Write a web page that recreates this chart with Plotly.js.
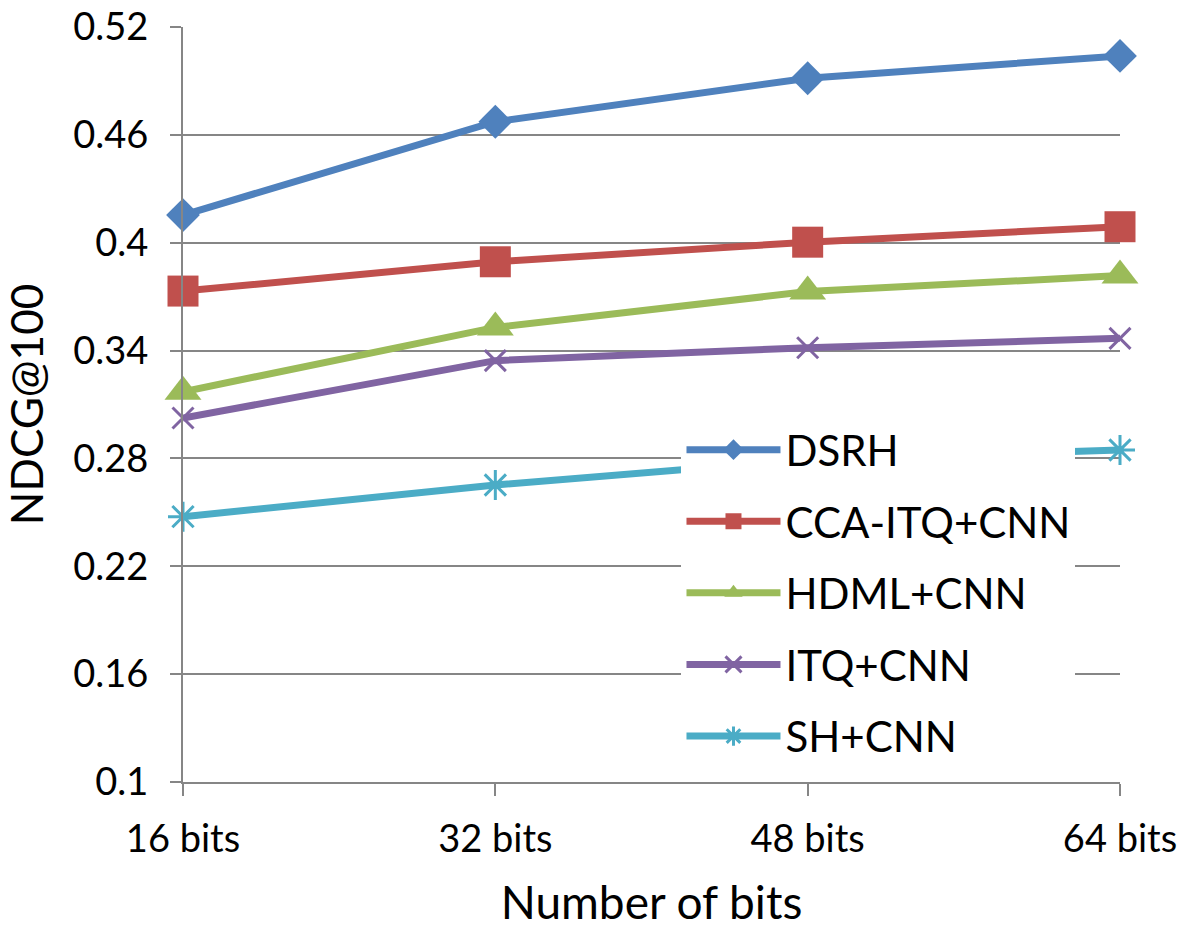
<!DOCTYPE html>
<html>
<head>
<meta charset="utf-8">
<script src="https://cdn.plot.ly/plotly-3.0.1.min.js"></script>
<style>html,body{margin:0;padding:0;background:#fff;}#chart{width:1181px;height:934px;}</style>
</head>
<body>
<div id="chart"></div>
<script>
const categories = ["16 bits", "32 bits", "48 bits", "64 bits"];
const seriesNames = ["DSRH", "CCA-ITQ+CNN", "HDML+CNN", "ITQ+CNN", "SH+CNN"];
const dsrh = [0.4154, 0.4673, 0.4915, 0.5039];
const ccaItq = [0.3731, 0.3894, 0.4003, 0.4089];
const hdml = [0.3171, 0.3529, 0.3728, 0.3817];
const itq = [0.3025, 0.3344, 0.3416, 0.3468];
const sh = [0.2476, 0.2652, 0.2794, 0.2847];
const yTickVals = [0.1, 0.16, 0.22, 0.28, 0.34, 0.4, 0.46, 0.52];
const yTickText = ["0.1", "0.16", "0.22", "0.28", "0.34", "0.4", "0.46", "0.52"];

const colors = ["#4F81BD", "#C0504D", "#9BBB59", "#8064A2", "#4BACC6"];
const symbols = ["diamond", "square", "triangle-up", "x-thin-open", "asterisk-open"];
const sizes = [26, 31, 32, 21, 25];
const values = [dsrh, ccaItq, hdml, itq, sh];
const FONT = "Lato, 'Open Sans', sans-serif";

const traces = values.map((v, i) => ({
  type: "scatter",
  mode: "lines+markers",
  x: categories,
  y: v,
  name: seriesNames[i],
  legendgroup: "g" + i,
  line: {color: colors[i], width: 7},
  marker: {symbol: symbols[i], size: sizes[i], color: colors[i],
           line: {color: colors[i], width: (i >= 3 ? 3 : 0)}},
  cliponaxis: false
}));

const layout = {
  width: 1181, height: 934,
  margin: {l: 183, r: 61, t: 27, b: 152, pad: 0},
  paper_bgcolor: "#ffffff", plot_bgcolor: "#ffffff",
  font: {family: FONT, color: "#000000"},
  showlegend: true,
  legend: {
    x: 0.532, y: 0.485, xanchor: "left", yanchor: "top",
    bgcolor: "#ffffff", borderwidth: 0,
    font: {family: FONT, size: 42, color: "#000"},
    tracegroupgap: 14, traceorder: "grouped",
    itemwidth: 94
  },
  xaxis: {
    type: "category", range: [0, 3],
    showgrid: false, zeroline: false,
    showline: true, linecolor: "#868686", linewidth: 2,
    ticks: "outside", ticklen: 12, tickwidth: 2, tickcolor: "#868686",
    tickfont: {family: FONT, size: 38},
    ticklabelstandoff: 10,
    title: {text: "Number of bits", font: {family: FONT, size: 46}, standoff: 28}
  },
  yaxis: {
    range: [0.1, 0.52],
    tickvals: yTickVals, ticktext: yTickText,
    showgrid: true, gridcolor: "#868686", gridwidth: 2,
    zeroline: false,
    showline: true, linecolor: "#868686", linewidth: 2,
    ticks: "outside", ticklen: 11, tickwidth: 2, tickcolor: "#868686",
    tickfont: {family: FONT, size: 38},
    ticklabelstandoff: 14,
    title: {text: "NDCG@100", font: {family: FONT, size: 44}, standoff: 18}
  }
};

Plotly.newPlot("chart", traces, layout, {displayModeBar: false, staticPlot: true});
</script>
</body>
</html>
